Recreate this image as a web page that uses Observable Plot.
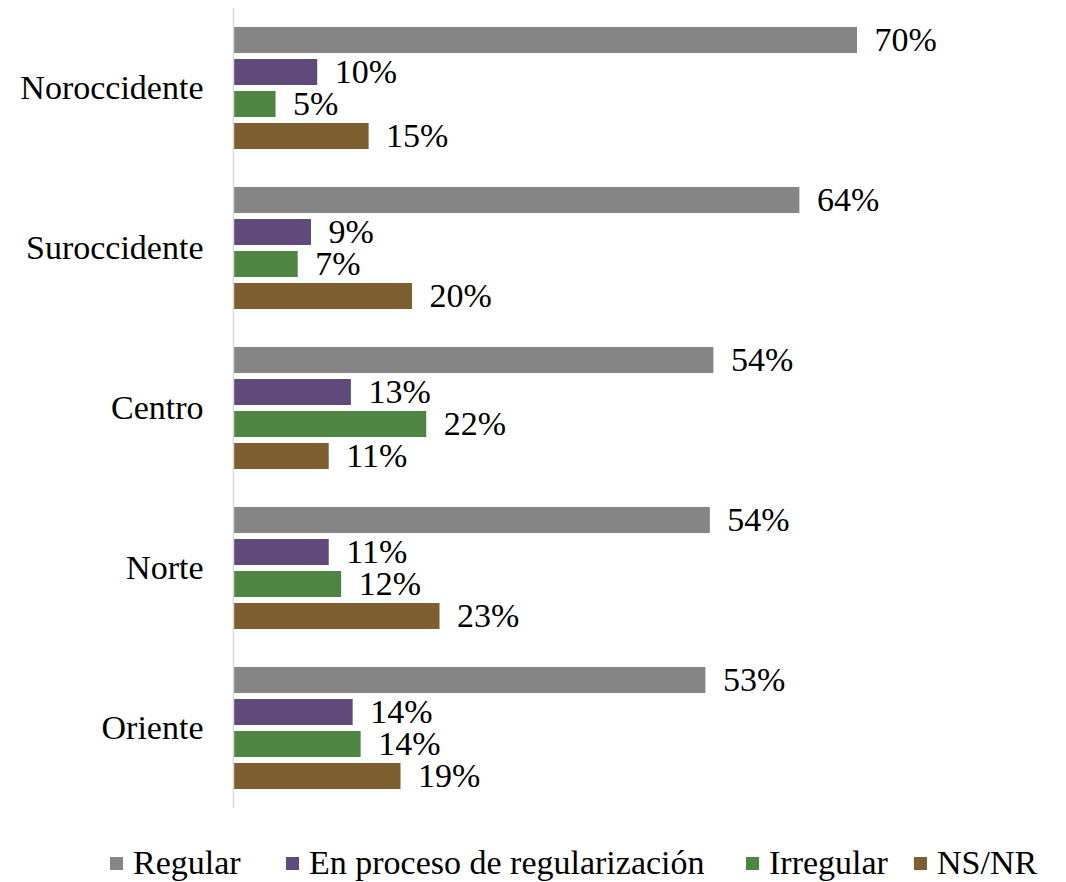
<!DOCTYPE html>
<html>
<head>
<meta charset="utf-8">
<script src="https://cdn.jsdelivr.net/npm/d3@7"></script>
<script src="https://cdn.jsdelivr.net/npm/@observablehq/plot@0.6"></script>
<style>
  body { margin: 0; background: #fff; font-family: "Liberation Serif", serif; overflow: hidden; }
  #wrap { position: relative; width: 1066px; height: 882px; overflow: hidden; }
  #legend { position: absolute; left: 0; top: 843px; width: 1066px; height: 40px; font-size: 34px; line-height: 40px; color: #000; white-space: nowrap; }
  .item { position: absolute; top: 0; display: flex; align-items: center; height: 40px; }
  .sw { width: 13px; height: 13px; margin-right: 10px; }
</style>
</head>
<body>
<div id="wrap">
  <div id="chart"></div>
  <div id="legend"></div>
</div>
<script>
const regions = ["Noroccidente", "Suroccidente", "Centro", "Norte", "Oriente"];
const series = ["Regular", "En proceso de regularización", "Irregular", "NS/NR"];
// values (labels show them rounded)
const regular = [70.4, 63.9, 54.2, 53.8, 53.3];
const enProceso = [9.5, 8.8, 13.3, 10.8, 13.5];
const irregular = [4.8, 7.3, 21.8, 12.2, 14.4];
const nsnr = [15.3, 20.2, 10.8, 23.3, 18.9];
const colors = ["#868686", "#604a7b", "#4e8542", "#7d5f31"];

const seriesValues = [regular, enProceso, irregular, nsnr];
const data = regions.flatMap((r, i) =>
  series.map((s, j) => ({ region: r, series: s, value: seriesValues[j][i] }))
);

const chart = Plot.plot({
  width: 1066,
  height: 815,
  marginLeft: 233,
  marginRight: 209,
  marginTop: 8,
  marginBottom: 7,
  style: { fontFamily: "Liberation Serif", fontSize: "34px", color: "#000", background: "#fff" },
  x: { domain: [0, 70.4], axis: null },
  y: { domain: series, paddingInner: 0.1875, paddingOuter: 0.59375, axis: null },
  fy: { domain: regions, padding: 0, label: null, tickSize: 0, tickPadding: 30 },
  color: { domain: series, range: colors },
  marks: [
    Plot.barX(data, { fy: "region", y: "series", x: "value", fill: "series" }),
    Plot.ruleX([0], { stroke: "#d9d9d9", strokeWidth: 1.5 }),
    Plot.text(data, {
      fy: "region", y: "series", x: "value",
      text: d => Math.round(d.value) + "%",
      dx: 17, textAnchor: "start", fontSize: 34, fill: "#000"
    })
  ]
});
document.getElementById("chart").appendChild(chart);

const legendLeft = [110, 286, 746, 914];
const legend = document.getElementById("legend");
series.forEach((s, i) => {
  const item = document.createElement("div");
  item.className = "item";
  item.style.left = legendLeft[i] + "px";
  const sw = document.createElement("div");
  sw.className = "sw";
  sw.style.background = colors[i];
  const t = document.createElement("span");
  t.textContent = s;
  item.appendChild(sw);
  item.appendChild(t);
  legend.appendChild(item);
});
</script>
</body>
</html>
